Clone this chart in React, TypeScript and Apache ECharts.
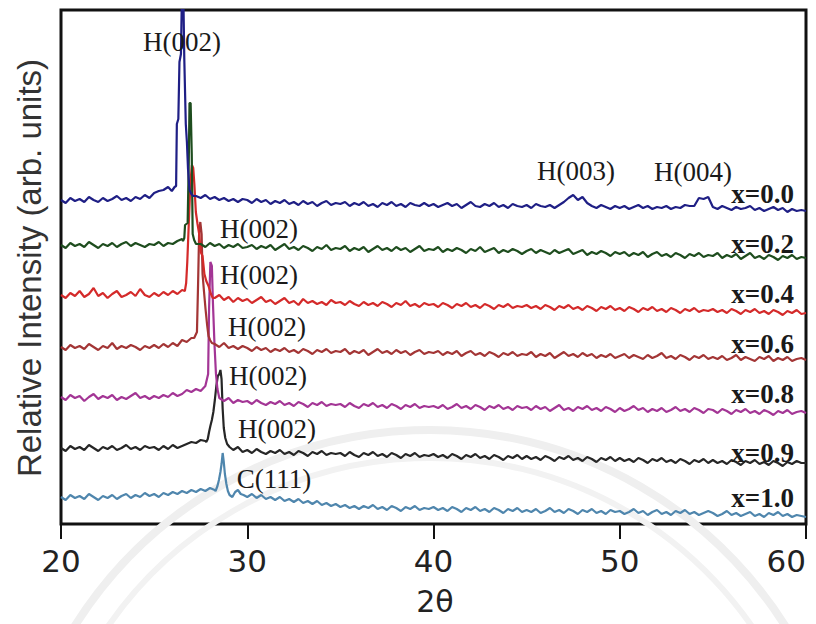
import React, { useEffect, useRef } from 'react';
import * as echarts from 'echarts';

// x grid for background samples: 20 .. 60 step 0.25 (161 samples)
const X_MIN = 20;
const X_MAX = 60;
const X_STEP = 0.25;
const X_TICK_INTERVAL = 10;
const Y_MAX = 514;

const seriesNames = ['x=0.0', 'x=0.2', 'x=0.4', 'x=0.6', 'x=0.8', 'x=0.9', 'x=1.0'];
const peakLabels = ['H(002)', 'H(002)', 'H(002)', 'H(002)', 'H(002)', 'H(002)', 'C(111)', 'H(003)', 'H(004)'];
const xAxisTitle = '2θ';
const yAxisTitle = 'Relative Intensity (arb. units)';

// Background intensities (arb.) sampled every 0.25 deg
const bg00 = [
  324, 321, 326, 323, 325, 322, 327, 324, 322, 326, 323, 325, 328, 324, 326, 323, 327, 325, 329, 326,
  331, 333, 334, 337, 335, 400, 520, 400, 335, 328, 326, 329, 325, 327, 324, 326, 323, 325, 322, 325,
  324, 321, 325, 322, 324, 320, 323, 321, 324, 320, 322, 319, 323, 320, 322, 318, 321, 323, 319, 321,
  320, 322, 318, 321, 319, 322, 318, 320, 317, 321, 319, 322, 318, 320, 317, 321, 319, 318, 321, 318,
  320, 317, 319, 321, 318, 320, 316, 319, 322, 318, 317, 320, 318, 321, 317, 319, 316, 320, 318, 317,
  319, 316, 320, 318, 317, 319, 316, 319, 322, 326, 329, 324, 327, 321, 318, 316, 319, 317, 315, 318,
  316, 318, 315, 317, 319, 316, 318, 315, 317, 316, 318, 315, 317, 316, 319, 318, 318, 326, 325, 327,
  317, 315, 318, 316, 314, 317, 315, 316, 318, 314, 316, 313, 315, 317, 314, 316, 312, 315, 313, 314,
  313,
];
const bg02 = [
  279, 276, 281, 278, 280, 277, 282, 279, 276, 280, 278, 281, 277, 280, 282, 278, 281, 279, 277, 280,
  279, 282, 278, 281, 280, 283, 285, 300, 380, 285, 280, 277, 281, 278, 280, 276, 279, 277, 280, 276,
  277, 279, 275, 278, 276, 279, 274, 277, 280, 275, 277, 274, 278, 276, 273, 277, 275, 279, 274, 276,
  275, 278, 273, 276, 274, 277, 272, 275, 278, 274, 276, 273, 277, 274, 276, 272, 275, 278, 273, 275,
  274, 277, 272, 275, 273, 276, 274, 271, 275, 273, 277, 272, 274, 276, 271, 274, 272, 275, 273, 270,
  273, 275, 271, 274, 272, 270, 274, 271, 273, 275, 270, 272, 274, 269, 272, 270, 273, 271, 268, 272,
  270, 272, 268, 271, 269, 272, 267, 270, 272, 268, 270, 267, 271, 269, 266, 270, 268, 271, 267, 269,
  268, 271, 266, 269, 267, 270, 265, 268, 271, 266, 268, 265, 269, 267, 264, 268, 266, 269, 265, 267,
  266,
];
const bg04 = [
  229, 226, 231, 228, 233, 227, 230, 236, 228, 231, 226, 230, 233, 227, 229, 232, 228, 235, 229, 227,
  231, 228, 232, 229, 233, 230, 234, 260, 340, 330, 275, 240, 228, 226, 229, 224, 227, 222, 226, 223,
  225, 221, 224, 227, 222, 224, 220, 223, 226, 221, 223, 219, 225, 221, 223, 220, 222, 219, 224, 221,
  222, 219, 223, 220, 218, 222, 219, 221, 218, 222, 220, 217, 221, 219, 223, 218, 220, 217, 221, 219,
  220, 217, 221, 219, 216, 220, 218, 221, 217, 219, 216, 220, 218, 215, 219, 217, 220, 216, 218, 217,
  219, 216, 218, 215, 219, 217, 214, 218, 216, 219, 215, 217, 214, 218, 216, 213, 217, 215, 218, 214,
  216, 213, 217, 215, 212, 216, 214, 217, 213, 215, 212, 216, 214, 211, 215, 213, 216, 212, 214, 213,
  215, 212, 214, 211, 215, 213, 210, 214, 212, 215, 211, 213, 210, 214, 212, 209, 213, 211, 214, 210,
  211,
];
const bg06 = [
  177, 174, 179, 176, 178, 175, 180, 177, 174, 178, 176, 181, 175, 178, 176, 179, 177, 174, 178, 176,
  179, 176, 180, 177, 181, 178, 184, 182, 186, 187, 300, 240, 185, 180, 177, 181, 176, 178, 175, 178,
  176, 173, 177, 174, 176, 172, 175, 173, 176, 172, 174, 171, 175, 173, 170, 174, 172, 175, 171, 173,
  172, 175, 170, 173, 171, 174, 169, 172, 175, 171, 173, 170, 174, 171, 173, 169, 172, 174, 170, 172,
  171, 173, 169, 172, 170, 173, 168, 171, 173, 169, 171, 168, 172, 170, 167, 171, 169, 172, 168, 170,
  169, 172, 167, 170, 168, 171, 166, 169, 172, 168, 170, 167, 171, 168, 170, 166, 169, 167, 170, 166,
  168, 170, 166, 169, 167, 165, 169, 166, 168, 171, 166, 168, 165, 169, 167, 164, 168, 166, 169, 165,
  167, 165, 168, 164, 166, 169, 164, 167, 165, 163, 167, 165, 168, 163, 166, 164, 167, 163, 165, 166,
  164,
];
const bg08 = [
  127, 124, 129, 126, 128, 123, 127, 130, 125, 128, 126, 129, 124, 127, 125, 128, 131, 126, 128, 125,
  128, 126, 129, 127, 131, 128, 130, 134, 132, 135, 133, 137, 255, 150, 126, 123, 126, 121, 124, 122,
  123, 120, 124, 121, 119, 122, 120, 123, 119, 121, 118, 122, 120, 117, 121, 119, 122, 118, 120, 119,
  120, 117, 121, 118, 116, 120, 118, 121, 117, 119, 116, 120, 118, 115, 119, 117, 120, 116, 118, 117,
  118, 116, 119, 115, 117, 120, 116, 118, 115, 119, 117, 114, 118, 116, 119, 115, 117, 114, 118, 116,
  117, 114, 118, 115, 117, 113, 116, 119, 114, 116, 113, 117, 115, 118, 114, 116, 113, 117, 115, 112,
  116, 113, 115, 118, 114, 116, 112, 115, 113, 116, 112, 114, 117, 113, 115, 112, 116, 114, 111, 115,
  114, 111, 115, 113, 110, 114, 112, 115, 111, 113, 110, 114, 112, 109, 113, 111, 114, 110, 112, 113,
  111,
];
const bg09 = [
  76, 73, 78, 75, 77, 74, 79, 76, 73, 77, 75, 78, 74, 76, 79, 75, 77, 74, 78, 76,
  77, 74, 78, 75, 79, 76, 78, 80, 82, 81, 84, 83, 95, 110, 140, 100, 78, 74, 77, 72,
  74, 71, 75, 72, 70, 73, 71, 74, 70, 72, 69, 73, 71, 68, 72, 70, 73, 69, 71, 70,
  71, 68, 72, 69, 67, 71, 69, 72, 68, 70, 67, 71, 69, 66, 70, 68, 71, 67, 69, 68,
  70, 67, 69, 66, 70, 68, 65, 69, 67, 70, 66, 68, 65, 69, 67, 64, 68, 66, 69, 65,
  68, 65, 67, 64, 68, 66, 63, 67, 65, 68, 64, 66, 63, 67, 65, 62, 66, 64, 67, 63,
  66, 63, 65, 62, 66, 64, 61, 65, 63, 66, 62, 64, 61, 65, 63, 60, 64, 62, 65, 61,
  64, 61, 63, 60, 64, 62, 59, 63, 61, 64, 60, 62, 59, 63, 61, 58, 62, 60, 63, 61,
  61,
];
const bg10 = [
  27, 24, 29, 26, 28, 25, 30, 27, 24, 28, 26, 29, 25, 28, 30, 26, 29, 27, 31, 28,
  30, 27, 31, 29, 32, 30, 33, 31, 34, 32, 35, 33, 36, 34, 45, 50, 32, 28, 31, 29,
  27, 30, 26, 29, 25, 27, 24, 27, 23, 25, 22, 25, 21, 23, 20, 23, 19, 21, 18, 20,
  17, 19, 16, 18, 15, 18, 16, 19, 15, 17, 14, 18, 16, 13, 17, 15, 18, 14, 16, 15,
  17, 14, 16, 13, 17, 15, 12, 16, 14, 17, 13, 15, 12, 16, 14, 11, 15, 13, 16, 12,
  14, 12, 15, 11, 13, 16, 12, 14, 11, 15, 13, 10, 14, 12, 15, 11, 13, 10, 14, 12,
  13, 10, 12, 15, 11, 13, 9, 12, 14, 10, 12, 9, 13, 11, 14, 10, 12, 9, 11, 13,
  11, 8, 10, 13, 9, 11, 8, 10, 12, 8, 10, 7, 11, 9, 12, 8, 10, 7, 9, 8,
  7,
];

// Finely sampled peak regions [2theta, intensity]
const pk00 = [
  [25.8, 336], [25.95, 333], [26.1, 337], [26.18, 338], [26.22, 400], [26.3, 405], [26.36, 462],
  [26.44, 470], [26.5, 540], [26.56, 540], [26.62, 465], [26.7, 400], [26.76, 382], [26.82, 355],
  [26.9, 334], [27.0, 330], [27.1, 328],
];
const pk02 = [
  [26.55, 283], [26.62, 286], [26.66, 299], [26.8, 301], [26.86, 362], [26.9, 421], [26.96, 421],
  [27.02, 370], [27.07, 290], [27.15, 284], [27.25, 280],
];
const pk04 = [
  [26.65, 233], [26.72, 241], [26.78, 262], [26.86, 300], [26.95, 342], [27.03, 359], [27.1, 356],
  [27.16, 340], [27.24, 312], [27.33, 300], [27.42, 290], [27.5, 272], [27.6, 268], [27.7, 250],
  [27.8, 243], [27.92, 238], [28.05, 230], [28.15, 226],
];
const pk06 = [
  [27.15, 186], [27.25, 190], [27.3, 192], [27.36, 240], [27.42, 295], [27.48, 302], [27.55, 290],
  [27.6, 250], [27.68, 232], [27.76, 215], [27.84, 200], [27.92, 188], [28.0, 184], [28.1, 181],
];
const pk08 = [
  [27.75, 138], [27.85, 146], [27.9, 150], [27.95, 215], [28.02, 262], [28.1, 258], [28.16, 220],
  [28.24, 180], [28.32, 150], [28.4, 135], [28.5, 126],
];
const pk09 = [
  [27.8, 82], [27.88, 85], [27.95, 92], [28.02, 98], [28.1, 104], [28.18, 112], [28.26, 124],
  [28.34, 138], [28.42, 148], [28.5, 150], [28.56, 154], [28.62, 145], [28.68, 115], [28.74, 96],
  [28.82, 86], [28.92, 80], [29.05, 77],
];
const pk10 = [
  [28.3, 33], [28.4, 38], [28.48, 44], [28.56, 52], [28.62, 60], [28.68, 71], [28.74, 62],
  [28.8, 50], [28.88, 40], [28.96, 33], [29.05, 29], [29.2, 27], [29.35, 32], [29.5, 34],
  [29.65, 30], [29.8, 29],
];

const backgrounds = [bg00, bg02, bg04, bg06, bg08, bg09, bg10];
const peaks = [pk00, pk02, pk04, pk06, pk08, pk09, pk10];

// ---- styling / layout (kept apart from the data) ----
const COLORS = ['#1f1f85', '#1e4d1e', '#d42a2a', '#a33535', '#a33595', '#262626', '#4f86ad'];
const SERIES_LABEL_Y = [194, 244, 294, 344, 394, 453, 498];
const PEAK_LABEL_POS = [
  [182, 42], [259, 229], [259, 275], [267, 327], [268, 376], [277, 429], [274, 479], [576, 171], [693, 172],
];

function buildSeries(bg: number[], pk: number[][]) {
  const lo = pk[0][0];
  const hi = pk[pk.length - 1][0];
  const pts: number[][] = [];
  bg.forEach((v, i) => {
    const x = X_MIN + i * X_STEP;
    if (x < lo || x > hi) pts.push([x, v]);
  });
  pk.forEach((p) => pts.push([p[0], p[1]]));
  pts.sort((a, b) => a[0] - b[0]);
  return pts;
}

export default function App() {
  const ref = useRef<HTMLDivElement>(null);
  useEffect(() => {
    if (!ref.current) return;
    const chart = echarts.init(ref.current, undefined, { renderer: 'svg' });
    const serif = "'Liberation Serif', 'Times New Roman', serif";
    const graphics: any[] = [
      { type: 'circle', silent: true, z: 0, shape: { cx: 430, cy: 850, r: 420 }, style: { fill: 'none', stroke: '#efefef', lineWidth: 8 } },
      { type: 'circle', silent: true, z: 0, shape: { cx: 430, cy: 850, r: 392 }, style: { fill: 'none', stroke: '#f2f2f2', lineWidth: 6 } },
      {
        type: 'text', x: 29.5, y: 268, rotation: Math.PI / 2, z: 10,
        style: { text: yAxisTitle, fontSize: 33, fontFamily: "'Liberation Sans', Arial, sans-serif", fill: '#333', align: 'center', verticalAlign: 'middle' },
      },
      {
        type: 'text', x: 435, y: 601, z: 10,
        style: { text: xAxisTitle, fontSize: 30, fontFamily: "'DejaVu Sans', sans-serif", fill: '#222', align: 'center', verticalAlign: 'middle' },
      },
    ];
    seriesNames.forEach((name, i) => {
      graphics.push({
        type: 'text', x: 794, y: SERIES_LABEL_Y[i], z: 10,
        style: { text: name, fontSize: 27, fontWeight: 'bold', fontFamily: serif, fill: '#1a1a1a', align: 'right', verticalAlign: 'middle' },
      });
    });
    peakLabels.forEach((t, i) => {
      graphics.push({
        type: 'text', x: PEAK_LABEL_POS[i][0], y: PEAK_LABEL_POS[i][1], z: 10,
        style: { text: t, fontSize: 27, fontFamily: serif, fill: '#1a1a1a', align: 'center', verticalAlign: 'middle' },
      });
    });

    chart.setOption({
      animation: false,
      backgroundColor: '#ffffff',
      grid: {
        left: 61, right: 10, top: 10, bottom: 100, show: true, borderColor: '#111', borderWidth: 3,
        backgroundColor: 'transparent', containLabel: false, outerBoundsMode: 'none',
      },
      xAxis: {
        type: 'value', min: X_MIN, max: X_MAX, interval: X_TICK_INTERVAL,
        axisLine: { show: false },
        axisTick: { show: true, inside: false, length: 15, lineStyle: { color: '#111', width: 2 } },
        axisLabel: {
          margin: 21, fontSize: 31, fontFamily: "'DejaVu Sans', sans-serif", color: '#222',
          alignMaxLabel: 'right',
        },
        splitLine: { show: false },
      },
      yAxis: { type: 'value', min: 0, max: Y_MAX, show: false, splitLine: { show: false } },
      graphic: graphics,
      series: backgrounds.map((bg, i) => ({
        name: seriesNames[i],
        type: 'line',
        data: buildSeries(bg, peaks[i]),
        showSymbol: false,
        symbol: 'none',
        clip: true,
        lineStyle: { color: COLORS[i], width: 2.2 },
        z: 2 + (6 - i) * 0.1,
      })),
    });
    return () => chart.dispose();
  }, []);
  return <div ref={ref} style={{ position: 'fixed', left: 0, top: 0, width: 816, height: 624 }} />;
}
